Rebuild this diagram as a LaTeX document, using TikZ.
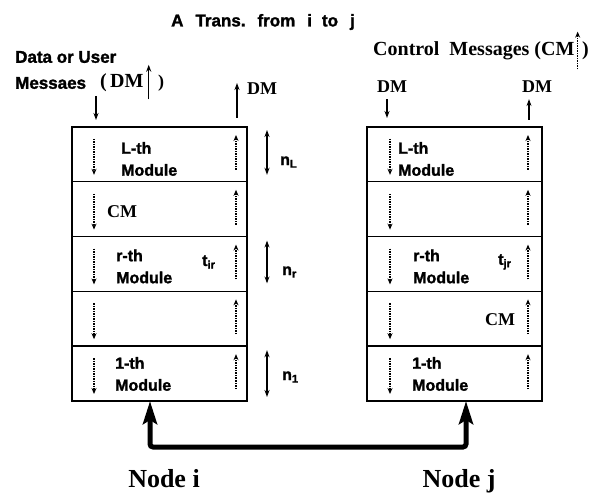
\documentclass[tikz,border=0pt]{standalone}
\usepackage{fontspec}
\setmainfont{Liberation Serif}
\setsansfont{Liberation Sans}[BoldFeatures={FakeBold=1.6}]
\usetikzlibrary{arrows.meta,positioning}
\tikzset{
  row/.style={draw,line width=1.4pt,minimum width=175pt,minimum height=54.8pt,inner sep=0pt,outer sep=0pt},
  modtxt/.style={anchor=west,align=left,inner sep=0pt,font=\fontsize{16}{22}\selectfont\sffamily\bfseries},
  sftxt/.style={anchor=west,inner sep=0pt,font=\fontsize{17}{20}\selectfont\sffamily\bfseries},
  sertxt/.style={anchor=west,inner sep=0pt,font=\fontsize{18}{20}\selectfont\bfseries},
  cmdash/.style={line width=1.1pt,dash pattern=on 1.5pt off 1pt,-{Stealth[length=6pt,width=5pt]}},
  dmline/.style={line width=1.4pt,-{Stealth[length=7pt,width=5pt]}},
  nspan/.style={line width=1.4pt,{Stealth[length=7pt,width=5pt]}-{Stealth[length=7pt,width=5pt]}},
  link/.style={line width=5pt,rounded corners=3pt,{Stealth[length=23pt,width=14pt,inset=4pt]}-{Stealth[length=23pt,width=14pt,inset=4pt]}}
}
\begin{document}
\begin{tikzpicture}[x=1pt,y=1pt]
  \useasboundingbox (0,0) rectangle (589,493);
  % title
  \node[inner sep=0pt,font=\fontsize{17}{20}\selectfont\sffamily\bfseries] (title) at (263,471) {A\hspace{12pt}Trans.\hspace{12pt}from\hspace{12pt}i\hspace{10pt}to\hspace{12pt}j};
  % node i stack
  \node[row] (iL) at (159.5,338.6) {};
  \node[row,below=0pt of iL] (iCM) {};
  \node[row,below=0pt of iCM] (ir) {};
  \node[row,below=0pt of ir] (ie) {};
  \node[row,below=0pt of ie] (i1) {};
  % node j stack
  \node[row] (jL) at (454.5,338.6) {};
  \node[row,below=0pt of jL] (je) {};
  \node[row,below=0pt of je] (jr) {};
  \node[row,below=0pt of jr] (jCM) {};
  \node[row,below=0pt of jCM] (j1) {};
  % CM arrows in the modules
  \foreach \r in {iL,iCM,ir,ie,i1} {
    \draw[cmdash] ([xshift=22pt,yshift=-12pt]\r.north west) -- ([xshift=22pt,yshift=7pt]\r.south west);
    \draw[cmdash] ([xshift=-11pt,yshift=12pt]\r.south east) -- ([xshift=-11pt,yshift=-8pt]\r.north east);
  }
  \foreach \r in {jL,je,jr,jCM,j1} {
    \draw[cmdash] ([xshift=23pt,yshift=-12pt]\r.north west) -- ([xshift=23pt,yshift=7pt]\r.south west);
    \draw[cmdash] ([xshift=-14pt,yshift=12pt]\r.south east) -- ([xshift=-14pt,yshift=-8pt]\r.north east);
  }
  % module texts
  \node[modtxt] (iLt) at (121,334) {L-th\\Module};
  \node[sertxt] (iCMt) at (107,281) {CM};
  \node[modtxt] (irt) at (116,226.5) {r-th\\Module};
  \node[modtxt] (itr) at (202,231) {t\textsubscript{ir}};
  \node[modtxt] (i1t) at (115,119) {1-th\\Module};
  \node[modtxt] (jLt) at (398,334) {L-th\\Module};
  \node[modtxt] (jrt) at (413,226.5) {r-th\\Module};
  \node[modtxt] (jtr) at (498,231) {t\textsubscript{jr}};
  \node[sertxt] (jCMt) at (485,173) {CM};
  \node[modtxt] (j1t) at (412,119) {1-th\\Module};
  % module sizes
  \draw[nspan] ([xshift=20pt,yshift=-3pt]iL.north east) -- ([xshift=20pt,yshift=7pt]iL.south east);
  \draw[nspan] ([xshift=20pt,yshift=-4pt]ir.north east) -- ([xshift=20pt,yshift=8pt]ir.south east);
  \draw[nspan] ([xshift=20pt,yshift=-4pt]i1.north east) -- ([xshift=20pt,yshift=4pt]i1.south east);
  \node[modtxt] (nL) at (280,331) {n\textsubscript{L}};
  \node[modtxt] (nr) at (282,221) {n\textsubscript{r}};
  \node[modtxt] (n1) at (282,116) {n\textsubscript{1}};
  % messages above node i
  \node[sftxt] (data) at (15,436) {Data or User};
  \node[sftxt] (mess) at (15,410) {Messaes};
  \node[sertxt,font=\fontsize{20}{20}\selectfont\bfseries] (dmo) at (100,410) {(\,DM};
  \node[sertxt] (dmc) at (158,410) {)};
  \draw[dmline] ([xshift=5pt,yshift=-7pt]dmo.south east) -- ([xshift=5pt,yshift=9pt]dmo.north east);
  \draw[dmline] ([xshift=24pt,yshift=31pt]iL.north west) -- ([xshift=24pt,yshift=7pt]iL.north west);
  \node[sertxt] (iDM) at (247,404) {DM};
  \draw[dmline] ([xshift=-10pt,yshift=9pt]iL.north east) -- ([xshift=-10pt,yshift=44pt]iL.north east);
  % messages above node j
  \node[inner sep=0pt,anchor=west,font=\fontsize{20}{20}\selectfont\bfseries] (ctrl) at (373,442) {Control~ Messages (CM};
  \node[sertxt,font=\fontsize{20}{20}\selectfont\bfseries] (ctrlc) at (582,442) {)};
  \draw[cmdash] ([xshift=3pt,yshift=-9pt]ctrl.south east) -- ([xshift=3pt,yshift=10pt]ctrl.north east);
  \node[sertxt,anchor=center] (jDMin) at (392,406) {DM};
  \node[sertxt,anchor=center] (jDMout) at (537,406) {DM};
  \draw[dmline] ([xshift=-5pt,yshift=-6pt]jDMin.south) -- ([xshift=20pt,yshift=9pt]jL.north west);
  \draw[dmline] ([xshift=-13pt,yshift=7pt]jL.north east) -- ([xshift=-8pt,yshift=-6pt]jDMout.south);
  % link between the nodes
  \coordinate (lk) at (300,46);
  \draw[link] ([xshift=-9.5pt]i1.south) |- (lk) -| ([xshift=11.5pt]j1.south);
  \node[anchor=base,inner sep=0pt,font=\fontsize{26}{28}\selectfont\bfseries] (nodei) at (164,6) {Node i};
  \node[anchor=base,inner sep=0pt,font=\fontsize{26}{28}\selectfont\bfseries] (nodej) at (459,6) {Node j};
\end{tikzpicture}
\end{document}
